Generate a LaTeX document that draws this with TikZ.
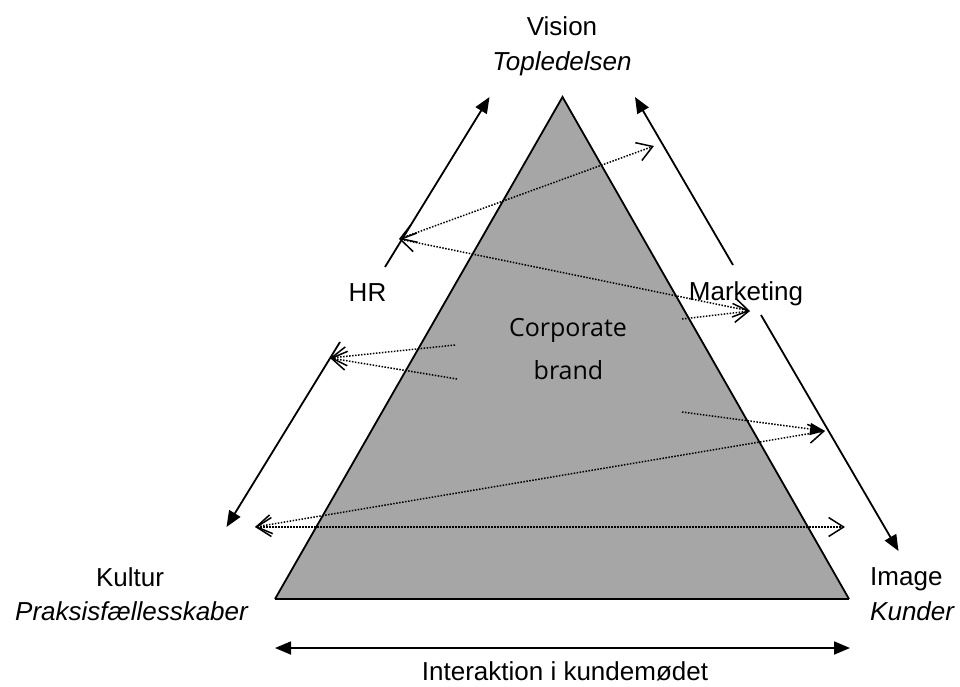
\documentclass[tikz,border=0pt]{standalone}
\usepackage{fontspec}
\setmainfont{Liberation Sans}
\newfontfamily\corpfont{Open Sans}
\usetikzlibrary{arrows.meta}
\definecolor{trifill}{RGB}{166,166,166}
\begin{document}
\begin{tikzpicture}[x=1pt,y=-1pt,
  lbl/.style={anchor=base,inner sep=0pt,font=\fontsize{26}{31}\selectfont},
  corp/.style={anchor=base,inner sep=0pt,font=\corpfont\fontsize{25}{30}\selectfont},
  solidarr/.style={line width=1.8pt,-{Triangle[length=16pt,width=13pt]}},
  solidboth/.style={line width=1.8pt,{Triangle[length=16pt,width=13pt]}-{Triangle[length=16pt,width=13pt]}},
  dotline/.style={line width=1.5pt,dash pattern=on 1.5pt off 1.5pt},
  barbend/.style={-{Straight Barb[length=15pt,width=19pt]}},
  barbboth/.style={{Straight Barb[length=15pt,width=19pt]}-{Straight Barb[length=15pt,width=19pt]}},
  filledend/.style={-{Triangle[length=15pt,width=12pt]}}
]
\useasboundingbox (0,0) rectangle (960,686);
% triangle
\coordinate (apex) at (562.5,97);
\coordinate (bl) at (275,599);
\coordinate (br) at (849,599);
\fill[trifill] (apex) -- (bl) -- (br) -- cycle;
\draw[line width=1.8pt,line join=miter] (bl) -- (apex) -- (br);
\draw[line width=2.8pt] (bl) -- (br);

% labels
\node[lbl] (vision) at (562,35) {Vision};
\node[lbl] (topl) at (562,70) {\itshape Topledelsen};
\node[lbl] (hr) at (367.5,301.5) {HR};
\node[lbl] (mkt) at (746,300) {Marketing};
\node[lbl] (kultur) at (130,586) {Kultur};
\node[lbl] (praksis) at (131.5,620) {\itshape Praksisfællesskaber};
\node[lbl,anchor=base west] (image) at (870,585) {Image};
\node[lbl,anchor=base west] (kunder) at (870,620) {\itshape Kunder};
\node[lbl] (inter) at (565,680.5) {Interaktion i kundemødet};
\node[corp] (corp1) at (568,336.5) {Corporate};
\node[corp] (corp2) at (568.5,379.3) {brand};

% solid arrows
\coordinate (hrA) at (385,267);
\coordinate (hrB) at (489.5,97);
\coordinate (hrC) at (340,342);
\coordinate (hrD) at (226.5,527);
\coordinate (mkA) at (733,265);
\coordinate (mkB) at (635,97);
\coordinate (mkC) at (761,315);
\coordinate (mkD) at (898.5,551);
\coordinate (inL) at (275,648);
\coordinate (inR) at (850,648);
\draw[solidarr] (hrA) -- (hrB);
\draw[solidarr] (hrC) -- (hrD);
\draw[solidarr] (mkA) -- (mkB);
\draw[solidarr] (mkC) -- (mkD);
\draw[solidboth] (inL) -- (inR);

% dotted arrows
\coordinate (p1) at (399,239);
\coordinate (p2) at (654,146);
\coordinate (p3) at (750,311);
\coordinate (p4) at (682,319);
\coordinate (p5) at (330,358);
\coordinate (p6) at (455,345);
\coordinate (p7) at (457,379);
\coordinate (p8) at (682,412);
\coordinate (p9) at (825,431);
\coordinate (p10) at (255,527);
\coordinate (p11) at (845,527);
\draw[dotline,barbboth] (p1) -- (p2);
\draw[dotline,barbboth] (p1) -- (p3);
\draw[dotline,barbend] (p4) -- (p3);
\draw[dotline,barbend] (p6) -- (p5);
\draw[dotline,barbend] (p7) -- (p5);
\draw[dotline,filledend] (p8) -- (p9);
\draw[dotline,barbboth] (p10) -- (p9);
\draw[dotline,barbboth] (p10) -- (p11);
\end{tikzpicture}
\end{document}
